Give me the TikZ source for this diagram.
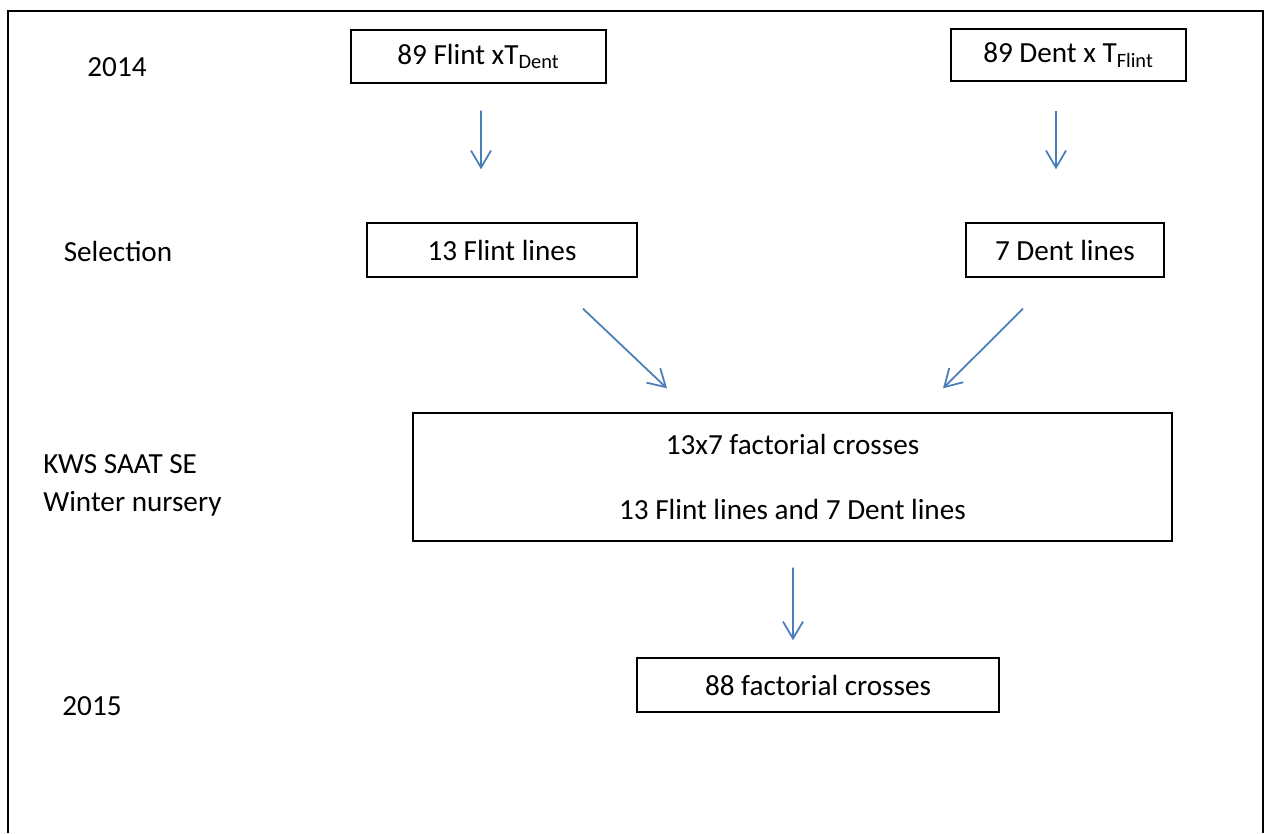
\documentclass[tikz,border=0pt]{standalone}
\usepackage{fontspec}
\setmainfont{Carlito}
\usetikzlibrary{arrows.meta,positioning,calc}
\definecolor{flowblue}{HTML}{4A7EBB}

\begin{document}
\begin{tikzpicture}[
        x=0.02cm, y=-0.02cm,
        font=\fontsize{16.6}{19.5}\selectfont,
        box/.style={draw=black, line width=0.8pt, inner sep=0pt, align=center},
        lbl/.style={inner sep=0pt, align=left},
        arr/.style={-{Straight Barb[length=3.4mm, width=4mm]}, flowblue, line width=1pt}
    ]
        \useasboundingbox (0,0) rectangle (1266,833);
        % outer frame, open at the bottom
        \draw[line width=0.8pt] (8,833) -- (8,11) -- (1263,11) -- (1263,833);

        % row labels
        \node[lbl] (y2014) at (117,67) {2014};
        \node[lbl] (sel) at (118,251) {Selection};
        \node[lbl, anchor=west] (kws) at (43,485) {KWS SAAT SE\\[2pt]Winter nursery};
        \node[lbl] (y2015) at (92,706) {2015};

        % boxes
        \node[box, minimum width=5.1cm, minimum height=1.06cm] (flintx) at (478.5,56.5)
            {89 Flint xT\textsubscript{Dent}};
        \node[box, minimum width=4.7cm, minimum height=1.04cm] (dentx) at (1068.5,55)
            {89 Dent x T\textsubscript{Flint}};
        \node[box, minimum width=5.4cm, minimum height=1.08cm] (flintsel) at (502,250)
            {13 Flint lines};
        \node[box, minimum width=3.96cm, minimum height=1.08cm] (dentsel) at (1065,250)
            {7 Dent lines};
        \node[box, minimum width=15.18cm, minimum height=2.56cm] (nursery) at (792.5,477)
            {13x7 factorial crosses\\[18pt]13 Flint lines and 7 Dent lines};
        \node[box, minimum width=7.24cm, minimum height=1.08cm] (crosses) at (818,685)
            {88 factorial crosses};

        \draw[arr] ($(flintx.south)+(2.5,27)$) -- ($(flintsel.north)+(-21,-53)$);
        \draw[arr] ($(dentx.south)+(-12.5,29)$) -- ($(dentsel.north)+(-9,-53)$);
        \draw[arr] ($(flintsel.south)+(81,31)$) -- ($(nursery.north)+(-125.5,-24)$);
        \draw[arr] ($(dentsel.south)+(-42,31)$) -- ($(nursery.north)+(150.5,-24)$);
        \draw[arr] ($(nursery.south)+(0.5,26)$) -- ($(crosses.north)+(-25,-17)$);
\end{tikzpicture}
\end{document}
